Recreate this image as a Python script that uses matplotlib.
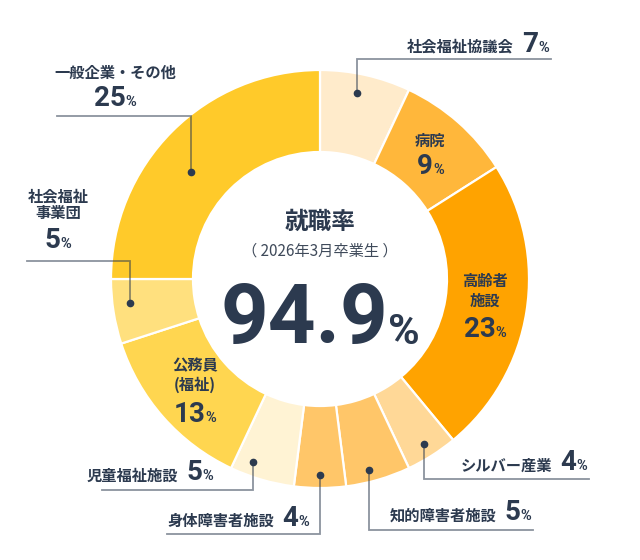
import numpy as np
import matplotlib
matplotlib.use("Agg")
import matplotlib.pyplot as plt
from matplotlib.offsetbox import TextArea, HPacker, AnnotationBbox

# data: employment destinations, graduates of March 2026
labels = ["社会福祉協議会", "病院", "高齢者施設", "シルバー産業", "知的障害者施設",
          "身体障害者施設", "児童福祉施設", "公務員(福祉)", "社会福祉事業団", "一般企業・その他"]
values = [7, 9, 23, 4, 5, 4, 5, 13, 5, 25]
colors = ["#FFEBCB", "#FFB73B", "#FFA300", "#FFD897", "#FFC669",
          "#FFC669", "#FFF3D4", "#FFD650", "#FFE07E", "#FFCA2A"]
rate = "94.9"
title = "就職率"
subtitle = "（ 2026年3月卒業生 ）"

INK = "#2C3A4F"
JP = ["Noto Sans CJK JP", "DejaVu Sans"]
NUM = ["Roboto", "DejaVu Sans"]

W, H = 640, 560
CX, CY = 320, 279          # pixel coords, y down
R_OUT, RING = 209, 82


def Y(y):
    return H - y


fig = plt.figure(figsize=(6.4, 5.6), dpi=100)
ax = fig.add_axes([0, 0, 1, 1])
wedges, _ = ax.pie(values, colors=colors, startangle=90, counterclock=False,
                   radius=R_OUT, center=(CX, Y(CY)),
                   wedgeprops=dict(width=RING, edgecolor="white", linewidth=1.6))
ax.set_xlim(0, W)
ax.set_ylim(0, H)
ax.set_aspect("equal")
ax.axis("off")


def point(w, frac, r):
    # position inside wedge, frac measured clockwise from its start
    a = np.radians(w.theta2 - frac * (w.theta2 - w.theta1))
    return CX + r * np.cos(a), Y(CY) + r * np.sin(a)


def txt(s, size, fam=JP, weight="bold", color=INK):
    return TextArea(s, textprops=dict(fontsize=size, fontweight=weight,
                                      color=color, family=fam))


def pct(v, big=20, small=10.5):
    return HPacker(children=[txt(str(v), big, NUM), txt("%", small, NUM)],
                   align="baseline", pad=0, sep=0)


def place(box, x, y, align=(0.5, 0.5)):
    ab = AnnotationBbox(box, (x, y), xycoords="data", box_alignment=align,
                        frameon=False, pad=0)
    ax.add_artist(ab)


# center text
place(txt(title, 17), CX, Y(222))
place(txt(subtitle, 11, weight="normal", color="#3F4A5A"), CX, Y(251))
place(HPacker(children=[txt(rate, 60, NUM), txt("%", 31, NUM)],
              align="baseline", pad=0, sep=0), CX, Y(321))

# labels inside the ring
inside = {1: ([-13], 13), 2: ([-24, -4], 24), 7: ([-24, -5], 25)}
for i, (offs, noff) in inside.items():
    x, y = point(wedges[i], 0.5, 167)
    name = labels[i]
    lines = [name] if i == 1 else ([name[:3], name[3:]] if i == 2 else ["公務員", "(福祉)"])
    for s, o in zip(lines, offs):
        place(txt(s, 11), x, y - o)
    place(pct(values[i]), x, y - noff)

# labels outside with leader lines
# index: (frac, radius, turn y, line end x, text x, text y, align)
outside = {
    0: (0.44, 190, 59, 551, 549, 44, 1.0),
    3: (0.50, 195, 479, 589, 587, 463, 1.0),
    4: (0.60, 197, 530, 533, 531, 513, 1.0),
    5: (0.50, 196, 534, 167, 167, 518, 0.0),
    6: (0.71, 195, 490, 102, 213, 473, 1.0),
}
for i, (f, r, ty, ex, tx, tyy, al) in outside.items():
    x, y = point(wedges[i], f, r)
    ax.plot([x, x, ex], [y, Y(ty), Y(ty)], color=INK, alpha=0.55, lw=1.3,
            solid_joinstyle="miter")
    ax.plot(x, y, "o", color=INK, ms=4.5)
    box = HPacker(children=[txt(labels[i], 11), pct(values[i])],
                  align="baseline", pad=0, sep=6)
    place(box, tx, Y(tyy), (al, 0.5))

# left side, stacked labels
stacked = {
    8: (0.60, 192, 261, 27, 58, [("社会福祉", 196), ("事業団", 213)], 240),
    9: (0.44, 168, 116, 57, 115, [("一般企業・その他", 73)], 98),
}
for i, (f, r, ty, ex, tx, rows, ny) in stacked.items():
    x, y = point(wedges[i], f, r)
    ax.plot([x, x, ex], [y, Y(ty), Y(ty)], color=INK, alpha=0.55, lw=1.3,
            solid_joinstyle="miter")
    ax.plot(x, y, "o", color=INK, ms=4.5)
    for s, yy in rows:
        place(txt(s, 11), tx, Y(yy))
    place(pct(values[i]), tx, Y(ny))

fig.savefig("out.png", dpi=100, facecolor="white")
